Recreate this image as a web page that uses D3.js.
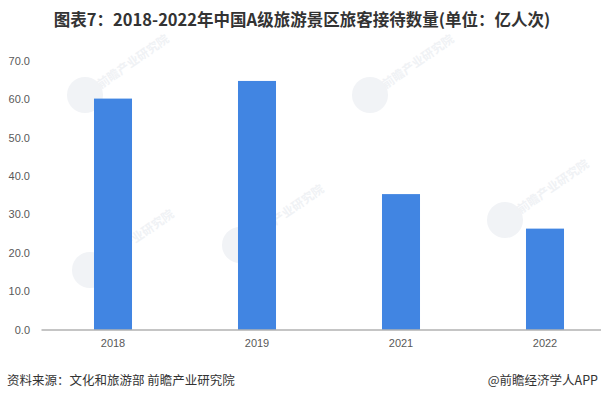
<!DOCTYPE html>
<html><head><meta charset="utf-8">
<script src="https://cdn.jsdelivr.net/npm/d3@7"></script>
<style>
html,body{margin:0;padding:0;background:#fff;}
svg{display:block;}
</style></head>
<body>
<script>
const categories = ["2018", "2019", "2021", "2022"];
const values = [60.2, 64.8, 35.3, 26.3];
const yTicks = [0, 10, 20, 30, 40, 50, 60, 70];
const titleText = "图表7：2018-2022年中国A级旅游景区旅客接待数量(单位：亿人次)";
const sourceText = "资料来源：文化和旅游部 前瞻产业研究院";
const creditText = "@前瞻经济学人APP";

const W = 601, H = 399;
const svg = d3.select("body").append("svg").attr("width", W).attr("height", H)
  .style("font-family", "'Microsoft YaHei','Noto Sans CJK SC',sans-serif");

// faint watermarks
const wm = svg.append("g");
[[85,95],[370,95],[240,245],[505,220],[90,270]].forEach(([x,y])=>{
  wm.append("circle").attr("cx", x).attr("cy", y).attr("r", 18).attr("fill", "#f1f3f6");
  wm.append("text").attr("transform", `translate(${x+16},${y-6}) rotate(-35)`)
    .attr("font-size", 12).attr("font-weight", "bold").attr("fill", "#f0f2f5").text("前瞻产业研究院");
});

const x = d3.scaleBand().domain(categories).range([41, 617]).paddingInner(0.736).paddingOuter(0.368);
const y = d3.scaleLinear().domain([0, 70]).range([329.5, 61]);

svg.append("text").attr("x", 302).attr("y", 26).attr("text-anchor", "middle")
  .attr("font-size", 16.5).attr("font-weight", "bold").attr("fill", "#333").text(titleText);

svg.append("g").selectAll("rect").data(categories).join("rect")
  .attr("x", d => x(d)).attr("width", x.bandwidth())
  .attr("y", (d,i) => y(values[i])).attr("height", (d,i) => y(0) - y(values[i]))
  .attr("fill", "#4185e2");

const yAxis = svg.append("g").attr("transform", "translate(30,0)")
  .call(d3.axisLeft(y).tickValues(yTicks).tickFormat(d3.format(".1f")).tickSize(0).tickPadding(0));
yAxis.select(".domain").remove();
yAxis.selectAll("text").attr("font-size", 11).attr("fill", "#595959")
  .style("font-family", "'Liberation Sans',Arial,sans-serif");

const xAxis = svg.append("g").attr("transform", `translate(0,${y(0)})`)
  .call(d3.axisBottom(x).tickSize(0).tickPadding(10));
xAxis.select(".domain").attr("stroke", "#8c8c8c").attr("stroke-width", 1.2);
xAxis.selectAll("text").attr("font-size", 11).attr("fill", "#595959")
  .style("font-family", "'Liberation Sans',Arial,sans-serif");

svg.append("text").attr("x", 7).attr("y", 385).attr("font-size", 12.5).attr("fill", "#333").text(sourceText);
svg.append("text").attr("x", 598).attr("y", 385).attr("text-anchor", "end").attr("font-size", 12.5).attr("fill", "#333").text(creditText);
</script>
</body></html>
